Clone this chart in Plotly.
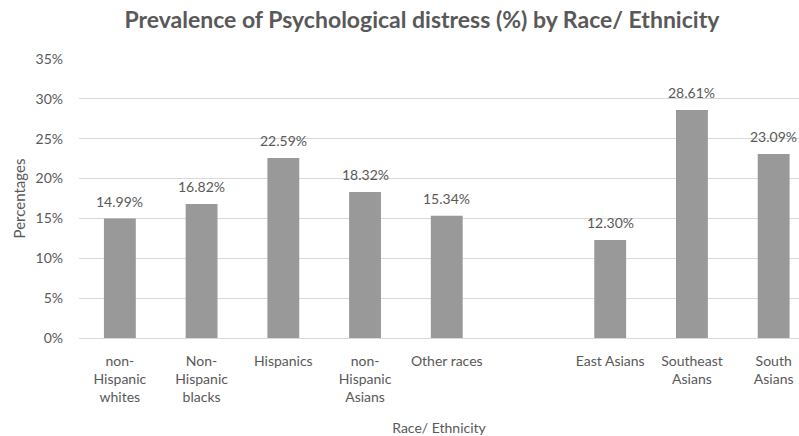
import plotly.graph_objects as go

# Race / ethnicity groups; the blank slot separates the Asian subgroups
categories = [
    "non-<br>Hispanic<br>whites",
    "Non-<br>Hispanic<br>blacks",
    "Hispanics",
    "non-<br>Hispanic<br>Asians",
    "Other races",
    " ",
    "East Asians",
    "Southeast<br>Asians",
    "South<br>Asians",
]
prevalence = [14.99, 16.82, 22.59, 18.32, 15.34, None, 12.30, 28.61, 23.09]
y_ticks = [0, 5, 10, 15, 20, 25, 30, 35]
y_tick_labels = [f"{v}%" for v in y_ticks]

TEXT = "#595959"
FONT = "Lato"

fig = go.Figure(
    go.Bar(
        x=categories,
        y=prevalence,
        marker=dict(color="#999999", line=dict(width=0)),
        width=0.39,
        hoverinfo="x+y",
    )
)

# value labels above each bar
for cat, val in zip(categories, prevalence):
    if val is None:
        continue
    fig.add_annotation(
        x=cat,
        y=val,
        text=f"{val:.2f}%",
        showarrow=False,
        yanchor="bottom",
        yshift=7,
        font=dict(family=FONT, size=14, color=TEXT),
    )

fig.update_layout(
    width=799,
    height=436,
    margin=dict(l=79, r=0, t=59, b=98),
    paper_bgcolor="white",
    plot_bgcolor="white",
    showlegend=False,
    title=dict(
        text="<b>Prevalence of Psychological distress (%) by Race/ Ethnicity</b>",
        x=0.528,
        xanchor="center",
        y=0.955,
        yanchor="middle",
        font=dict(family=FONT, size=23, color=TEXT),
    ),
    font=dict(family=FONT, size=14, color=TEXT),
)

fig.update_xaxes(
    type="category",
    categoryorder="array",
    categoryarray=categories,
    range=[-0.5, 8.31],
    showgrid=False,
    showline=True,
    linecolor="#d9d9d9",
    linewidth=1,
    ticks="",
    ticklabelstandoff=10,
    tickfont=dict(family=FONT, size=14, color=TEXT),
    title=dict(text="Race/ Ethnicity", font=dict(family=FONT, size=14, color=TEXT), standoff=20),
)

fig.update_yaxes(
    range=[0, 35],
    tickvals=y_ticks,
    ticktext=y_tick_labels,
    showgrid=True,
    gridcolor="#d9d9d9",
    gridwidth=1,
    zeroline=False,
    showline=False,
    ticks="",
    ticklabelstandoff=15,
    tickfont=dict(family=FONT, size=14, color=TEXT),
    title=dict(text="Percentages", font=dict(family=FONT, size=15, color=TEXT), standoff=6),
)

fig.write_html("out.html")
